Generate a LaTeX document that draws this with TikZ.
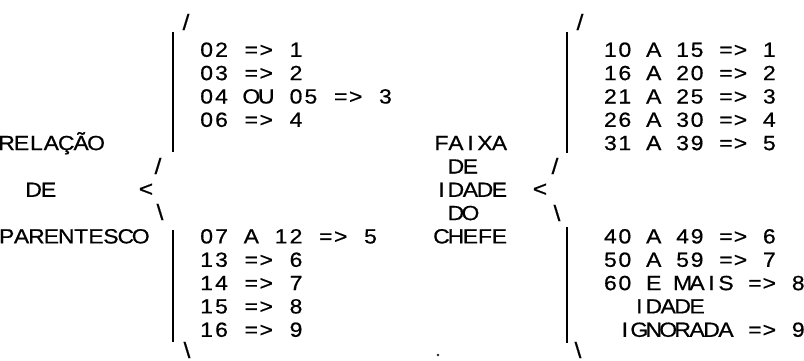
\documentclass[tikz,border=0pt]{standalone}
\usepackage{fontspec}
\setmainfont{Liberation Sans}[FakeStretch=1.12,FakeBold=0.6]
\usepackage{tikz}
\usetikzlibrary{positioning}

% one character per fixed cell, like the typed original
\newlength\cellw
\setlength\cellw{14.9pt}
\ExplSyntaxOn
\NewDocumentCommand\typed{O{\cellw}m}{\str_map_inline:nn{#2}{\makebox[#1]{##1}}}
\ExplSyntaxOff

\begin{document}
\begin{tikzpicture}[x=1pt,y=-1pt,
    entry/.style={anchor=base west,inner sep=0pt,font=\fontsize{20.5}{24}\selectfont},
    glyph/.style={anchor=center,inner sep=0pt,font=\fontsize{22}{24}\selectfont},
    bar/.style={line width=1.3pt}]
    \useasboundingbox (0,0) rectangle (804,361);

    % left brace: relacao de parentesco
    \node[entry] (relacao) at (-1,150.1) {\typed{RELAÇÃO}};
    \node[entry] (lde) at (26,196.8) {\typed{DE}};
    \node[entry] (parentesco) at (-1,243.4) {\typed{PARENTESCO}};

    \node[glyph] (ltop) at (186,22) {/};
    \node[glyph] (lup) at (158,166) {/};
    \node[glyph] (ltip) at (146,190) {<};
    \node[glyph] (ldown) at (160,212) {\textbackslash};
    \node[glyph] (lbot) at (187,350) {\textbackslash};
    \coordinate (lbar1) at (173,32);
    \coordinate (lbar2) at (173,152);
    \coordinate (lbar3) at (173,230);
    \coordinate (lbar4) at (173,342);
    \draw[bar] (lbar1) -- (lbar2);
    \draw[bar] (lbar3) -- (lbar4);

    \node[entry] (p1) at (199,56.8) {\typed{02 => 1}};
    \node[entry] (p2) at (199,80.1) {\typed{03 => 2}};
    \node[entry] (p3) at (199,103.5) {\typed{04 OU 05 => 3}};
    \node[entry] (p4) at (199,126.8) {\typed{06 => 4}};
    \node[entry] (p5) at (199,243.4) {\typed{07 A 12 => 5}};
    \node[entry] (p6) at (199,266.8) {\typed{13 => 6}};
    \node[entry] (p7) at (199,290.1) {\typed{14 => 7}};
    \node[entry] (p8) at (199,313.4) {\typed{15 => 8}};
    \node[entry] (p9) at (199,336.8) {\typed{16 => 9}};

    % right brace: faixa de idade do chefe
    \node[entry] (faixa) at (434,150.1) {\typed[14.5pt]{FAIXA}};
    \node[entry] (rde) at (448.5,173.5) {\typed[14.5pt]{DE}};
    \node[entry] (idade) at (434,196.8) {\typed[14.5pt]{IDADE}};
    \node[entry] (rdo) at (448.5,220.1) {\typed[14.5pt]{DO}};
    \node[entry] (chefe) at (434,243.4) {\typed[14.5pt]{CHEFE}};

    \node[glyph] (rtop) at (580,22) {/};
    \node[glyph] (rup) at (555,166) {/};
    \node[glyph] (rtip) at (540,190) {<};
    \node[glyph] (rdown) at (557,213) {\textbackslash};
    \node[glyph] (rbot) at (578,350) {\textbackslash};
    \coordinate (rbar1) at (567,32);
    \coordinate (rbar2) at (567,153);
    \coordinate (rbar3) at (567,227);
    \coordinate (rbar4) at (567,343);
    \draw[bar] (rbar1) -- (rbar2);
    \draw[bar] (rbar3) -- (rbar4);

    \node[entry] (f1) at (603,56.8) {\typed[14.45pt]{10 A 15 => 1}};
    \node[entry] (f2) at (603,80.1) {\typed[14.45pt]{16 A 20 => 2}};
    \node[entry] (f3) at (603,103.5) {\typed[14.45pt]{21 A 25 => 3}};
    \node[entry] (f4) at (603,126.8) {\typed[14.45pt]{26 A 30 => 4}};
    \node[entry] (f5) at (603,150.1) {\typed[14.45pt]{31 A 39 => 5}};
    \node[entry] (f6) at (603,243.4) {\typed[14.45pt]{40 A 49 => 6}};
    \node[entry] (f7) at (603,266.8) {\typed[14.45pt]{50 A 59 => 7}};
    \node[entry] (f8) at (603,290.1) {\typed[14.45pt]{60 E MAIS => 8}};
    \node[entry] (f9a) at (631.9,313.4) {\typed[14.45pt]{IDADE}};
    \node[entry] (f9b) at (617.45,336.8) {\typed[14.45pt]{IGNORADA => 9}};

    \node[circle,fill=black!85,inner sep=0.9pt] (speck) at (438,355) {};
\end{tikzpicture}
\end{document}
